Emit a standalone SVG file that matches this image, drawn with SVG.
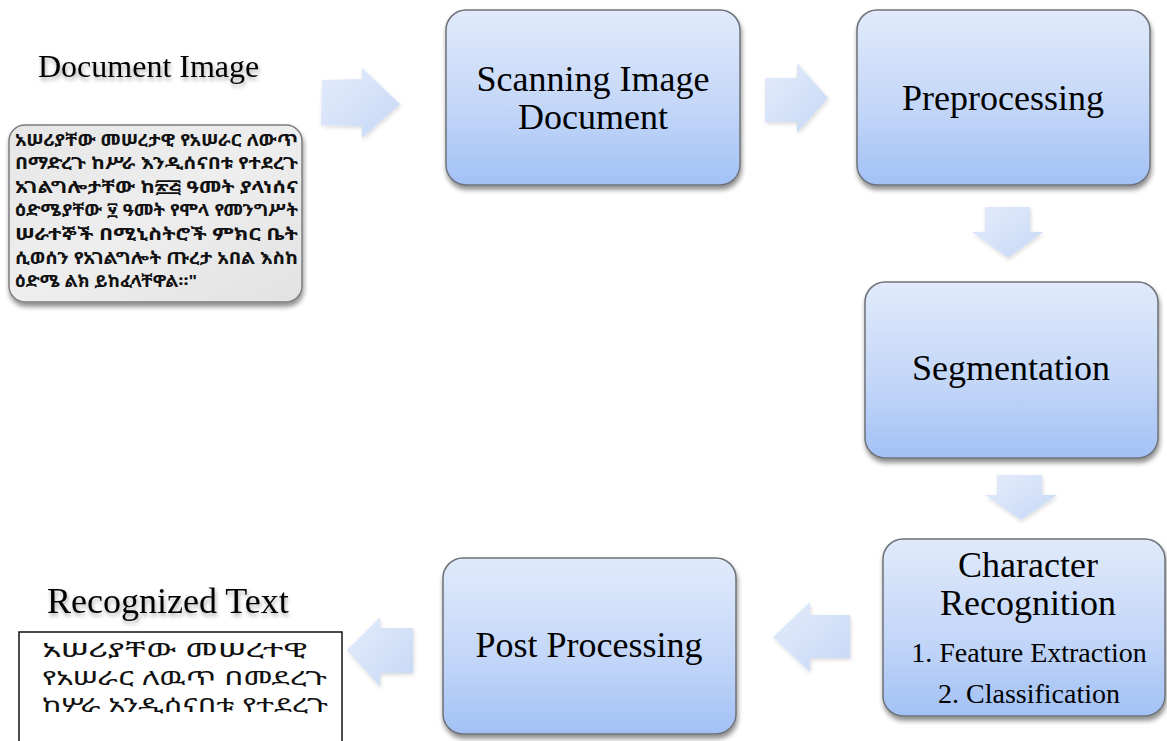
<svg xmlns="http://www.w3.org/2000/svg" width="1167" height="741" viewBox="0 0 1167 741">
<defs>
<linearGradient id="boxGrad" x1="0" y1="0" x2="0" y2="1">
<stop offset="0" stop-color="#e0eafb"/>
<stop offset="0.55" stop-color="#c4d7f8"/>
<stop offset="1" stop-color="#a2c1f5"/>
</linearGradient>
<linearGradient id="arrGrad" x1="0" y1="0" x2="1" y2="1">
<stop offset="0" stop-color="#e4ecfb"/>
<stop offset="1" stop-color="#c6d8f6"/>
</linearGradient>
<linearGradient id="paper" x1="0" y1="0" x2="1" y2="1">
<stop offset="0" stop-color="#e6e6e6"/>
<stop offset="0.5" stop-color="#eeeeee"/>
<stop offset="1" stop-color="#e2e2e2"/>
</linearGradient>
<filter id="shadow" x="-10%" y="-10%" width="125%" height="130%">
<feGaussianBlur in="SourceAlpha" stdDeviation="2.5"/>
<feOffset dx="1" dy="4" result="b"/>
<feComponentTransfer><feFuncA type="linear" slope="0.45"/></feComponentTransfer>
<feMerge><feMergeNode/><feMergeNode in="SourceGraphic"/></feMerge>
</filter>
<filter id="arrShadow" x="-20%" y="-20%" width="150%" height="150%">
<feGaussianBlur in="SourceAlpha" stdDeviation="2"/>
<feOffset dx="1" dy="2"/>
<feComponentTransfer><feFuncA type="linear" slope="0.15"/></feComponentTransfer>
<feMerge><feMergeNode/><feMergeNode in="SourceGraphic"/></feMerge>
</filter>
<filter id="textShadow" x="-10%" y="-30%" width="120%" height="170%">
<feGaussianBlur in="SourceAlpha" stdDeviation="2"/>
<feOffset dx="1" dy="3"/>
<feComponentTransfer><feFuncA type="linear" slope="0.35"/></feComponentTransfer>
<feMerge><feMergeNode/><feMergeNode in="SourceGraphic"/></feMerge>
</filter>
</defs>
<style>
.box{fill:url(#boxGrad);stroke:#6e7178;stroke-width:1.5;filter:url(#shadow)}
.lbl{font-family:"Liberation Serif","Times New Roman",serif;font-size:36px;fill:#000;text-anchor:middle}
.sub{font-size:28px}
.arr{fill:url(#arrGrad);stroke:none;filter:url(#arrShadow)}
.title{font-family:"Liberation Serif","Times New Roman",serif;fill:#000;filter:url(#textShadow)}
.eth{font-family:"Noto Sans Ethiopic","Abyssinica SIL","Noto Serif Ethiopic","DejaVu Sans","Liberation Sans",sans-serif;fill:#111}
</style>
<rect width="1167" height="741" fill="#ffffff"/>

<g id="document-image">
<text class="title" x="38" y="77" font-size="32">Document Image</text>
<rect x="9" y="125" width="293" height="177" rx="16" fill="url(#paper)" stroke="#7d7d7d" stroke-width="1.5" filter="url(#shadow)"/>
<g class="eth" font-size="16.5" font-weight="bold" fill="#222">
<text x="15" y="146" textLength="283" lengthAdjust="spacingAndGlyphs">አሠሪያቸው መሠረታዊ የአሠራር ለውጥ</text>
<text x="15" y="169" textLength="283" lengthAdjust="spacingAndGlyphs">በማድረጉ ከሥራ እንዲሰናበቱ የተደረጉ</text>
<text x="15" y="193" textLength="283" lengthAdjust="spacingAndGlyphs">አገልግሎታቸው ከ፳፭ ዓመት ያላነሰና</text>
<text x="15" y="216" textLength="283" lengthAdjust="spacingAndGlyphs">ዕድሜያቸው ፶ ዓመት የሞላ የመንግሥት</text>
<text x="15" y="240" textLength="283" lengthAdjust="spacingAndGlyphs">ሠራተኞች በሚኒስትሮች ምክር ቤት</text>
<text x="15" y="264" textLength="283" lengthAdjust="spacingAndGlyphs">ሲወሰን የአገልግሎት ጡረታ አበል እስከ</text>
<text x="15" y="287" textLength="182" lengthAdjust="spacingAndGlyphs">ዕድሜ ልክ ይከፈላቸዋል።"</text>
</g>
</g>

<g id="recognized-text">
<text class="title" x="47" y="613" font-size="36">Recognized Text</text>
<rect x="19" y="632" width="323" height="120" fill="#ffffff" stroke="#111" stroke-width="1.5"/>
<g class="eth" font-size="19">
<text x="42" y="657" textLength="265" lengthAdjust="spacingAndGlyphs">አሠሪያቸው መሠረተዊ</text>
<text x="42" y="685" textLength="285" lengthAdjust="spacingAndGlyphs">የአሠራር ለዉጥ በመደረጉ</text>
<text x="42" y="712" textLength="286" lengthAdjust="spacingAndGlyphs">ከሦራ አንዲሰናበቱ የተደረጉ</text>
</g>
</g>

<g id="scanning">
<rect class="box" x="446" y="10" width="294" height="175" rx="20"/>
<text class="lbl" x="593" y="91">Scanning Image</text>
<text class="lbl" x="593" y="129">Document</text>
</g>

<g id="preprocessing">
<rect class="box" x="857" y="10" width="293" height="175" rx="20"/>
<text class="lbl" x="1003" y="110">Preprocessing</text>
</g>

<g id="segmentation">
<rect class="box" x="865" y="282" width="293" height="176" rx="20"/>
<text class="lbl" x="1011" y="380">Segmentation</text>
</g>

<g id="character-recognition">
<rect class="box" x="883" y="539" width="282" height="177" rx="20"/>
<text class="lbl" x="1028" y="577">Character</text>
<text class="lbl" x="1028" y="615">Recognition</text>
<text class="lbl sub" x="1029" y="662">1. Feature Extraction</text>
<text class="lbl sub" x="1029" y="703">2. Classification</text>
</g>

<g id="post-processing">
<rect class="box" x="443" y="558" width="293" height="176" rx="20"/>
<text class="lbl" x="589" y="657">Post Processing</text>
</g>

<g id="connectors">
<path class="arr" d="M322,80 L362,79 L362,68 L400,104 L362,138 L362,126 L321,125 Z"/>
<path class="arr" d="M765,78 L797,78 L797,63 L828,98 L797,133 L797,122 L765,122 Z"/>
<path class="arr" d="M985,207 L1030,207 L1030,232 L1043,232 L1008,258 L972,232 L985,232 Z"/>
<path class="arr" d="M997,475 L1042,475 L1042,495 L1057,495 L1021,520 L985,495 L997,495 Z"/>
<path class="arr" d="M850,615 L850,658 L810,658 L810,672 L773,637 L810,602 L810,615 Z"/>
<path class="arr" d="M413,628 L413,673 L380,673 L380,687 L347,650 L380,617 L380,628 Z"/>
</g>
</svg>
